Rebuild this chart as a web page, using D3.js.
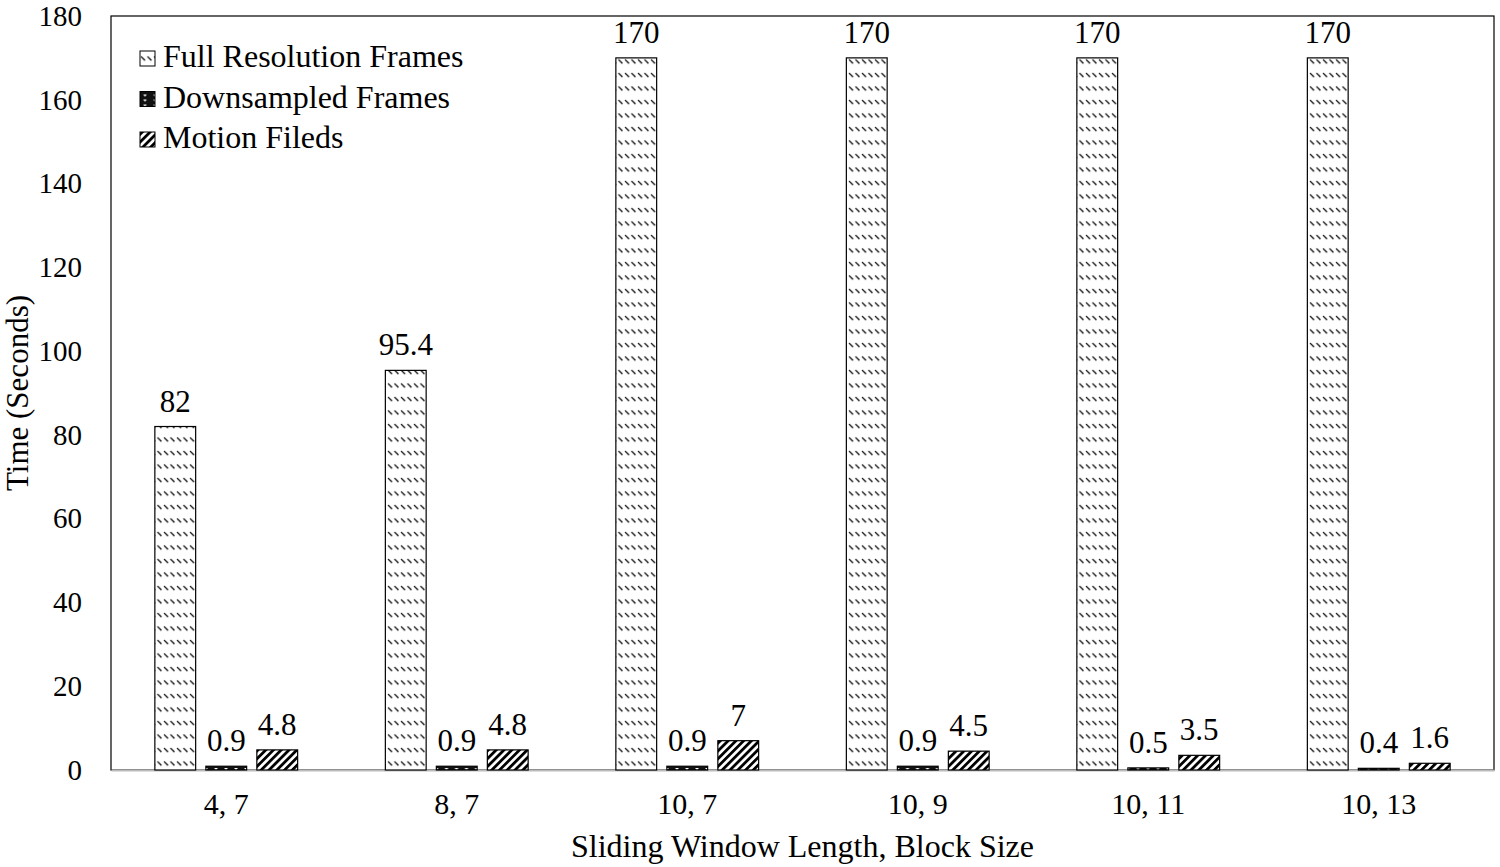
<!DOCTYPE html>
<html>
<head>
<meta charset="utf-8">
<script src="https://cdn.jsdelivr.net/npm/d3@7"></script>
<style>
body { margin:0; background:#fff; }
text { font-family: "Liberation Serif", "Times New Roman", serif; fill:#000; }
</style>
</head>
<body>
<div id="chart"></div>
<script>
// data
var categories = ["4, 7", "8, 7", "10, 7", "10, 9", "10, 11", "10, 13"];
var seriesNames = ["Full Resolution Frames", "Downsampled Frames", "Motion Fileds"];
var fullRes = [82, 95.4, 170, 170, 170, 170];
var downsampled = [0.9, 0.9, 0.9, 0.9, 0.5, 0.4];
var motion = [4.8, 4.8, 7, 4.5, 3.5, 1.6];
var yTicks = [0, 20, 40, 60, 80, 100, 120, 140, 160, 180];

var width = 1500, height = 867;
var margin = {top:16, right:6, bottom:97, left:111};
var w = width - margin.left - margin.right,
    h = height - margin.top - margin.bottom;

var svg = d3.select("#chart").append("svg")
    .attr("width", width).attr("height", height);

// patterns
var defs = svg.append("defs");
var p1 = defs.append("pattern").attr("id","pFull").attr("patternUnits","userSpaceOnUse")
    .attr("width",6.5).attr("height",13.5);
p1.append("rect").attr("width",6.5).attr("height",13.5).attr("fill","#fff");
p1.append("path").attr("d","M1,3 L5,7").attr("stroke","#000").attr("stroke-width",1.3);
var p2 = defs.append("pattern").attr("id","pDown").attr("patternUnits","userSpaceOnUse")
    .attr("width",10).attr("height",5);
p2.append("rect").attr("width",10).attr("height",5).attr("fill","#111");
p2.append("path").attr("d","M3,2 L7,2 L5,4 Z").attr("fill","#fff");
var p3 = defs.append("pattern").attr("id","pMotion").attr("patternUnits","userSpaceOnUse")
    .attr("width",5.5).attr("height",5.5).attr("patternTransform","rotate(45)");
p3.append("rect").attr("width",5.5).attr("height",5.5).attr("fill","#fff");
p3.append("rect").attr("width",2.8).attr("height",5.5).attr("fill","#000");
var fills = ["url(#pFull)", "url(#pDown)", "url(#pMotion)"];

var g = svg.append("g").attr("transform","translate(" + margin.left + "," + margin.top + ")");

var x = d3.scaleBand().domain(categories).range([0, w]);
var xs = d3.scaleBand().domain(seriesNames).range([0, x.bandwidth()]).paddingInner(0.2).paddingOuter(0.86);
var y = d3.scaleLinear().domain([0,180]).range([h, 0]);

// frame
g.append("rect").attr("width", w).attr("height", h)
    .attr("fill","none").attr("stroke","#000").attr("stroke-width",1.2);

// y axis labels
var yAxis = g.append("g").call(d3.axisLeft(y).tickValues(yTicks).tickSize(0).tickPadding(29));
yAxis.select(".domain").remove();
yAxis.selectAll("text").style("font-size","29px").style("font-family","Liberation Serif");

// x axis
var xAxis = g.append("g").attr("transform","translate(0," + h + ")")
    .call(d3.axisBottom(x).tickSize(0).tickPadding(23));
xAxis.select(".domain").attr("stroke","#bbb").attr("stroke-width",2);
xAxis.selectAll("text").style("font-size","30px").style("font-family","Liberation Serif");

var data = categories.map(function(c, i){
    return [fullRes[i], downsampled[i], motion[i]].map(function(v, j){
        return {cat:c, key:seriesNames[j], value:v, idx:j};
    });
});

var groups = g.selectAll(".grp").data(data).enter().append("g")
    .attr("transform", function(d){ return "translate(" + x(d[0].cat) + ",0)"; });

groups.selectAll("rect").data(function(d){ return d; }).enter().append("rect")
    .attr("x", function(d){ return xs(d.key); })
    .attr("y", function(d){ return y(d.value); })
    .attr("width", xs.bandwidth())
    .attr("height", function(d){ return h - y(d.value); })
    .attr("fill", function(d){ return fills[d.idx]; })
    .attr("stroke","#000").attr("stroke-width",1.2);

groups.selectAll(".lbl").data(function(d){ return d; }).enter().append("text")
    .attr("x", function(d){ return xs(d.key) + xs.bandwidth()/2; })
    .attr("y", function(d){ return y(d.value) - 15; })
    .attr("text-anchor","middle")
    .style("font-size","31px")
    .text(function(d){ return d.value; });

// axis titles
svg.append("text")
    .attr("x", margin.left + w/2).attr("y", 857)
    .attr("text-anchor","middle").style("font-size","32px")
    .text("Sliding Window Length, Block Size");
svg.append("text")
    .attr("transform","translate(28," + (margin.top + h/2) + ") rotate(-90)")
    .attr("text-anchor","middle").style("font-size","31px")
    .text("Time (Seconds)");

// legend
var legend = g.append("g").attr("transform","translate(29,51)");
seriesNames.forEach(function(s, i){
    var row = legend.append("g").attr("transform","translate(0," + (i*40.5) + ")");
    row.append("rect").attr("x",0).attr("y",-16).attr("width",15).attr("height",15)
        .attr("fill",fills[i]).attr("stroke","#000").attr("stroke-width",1);
    row.append("text").attr("x",23).attr("y",0).style("font-size","32px").text(s);
});
</script>
</body>
</html>
